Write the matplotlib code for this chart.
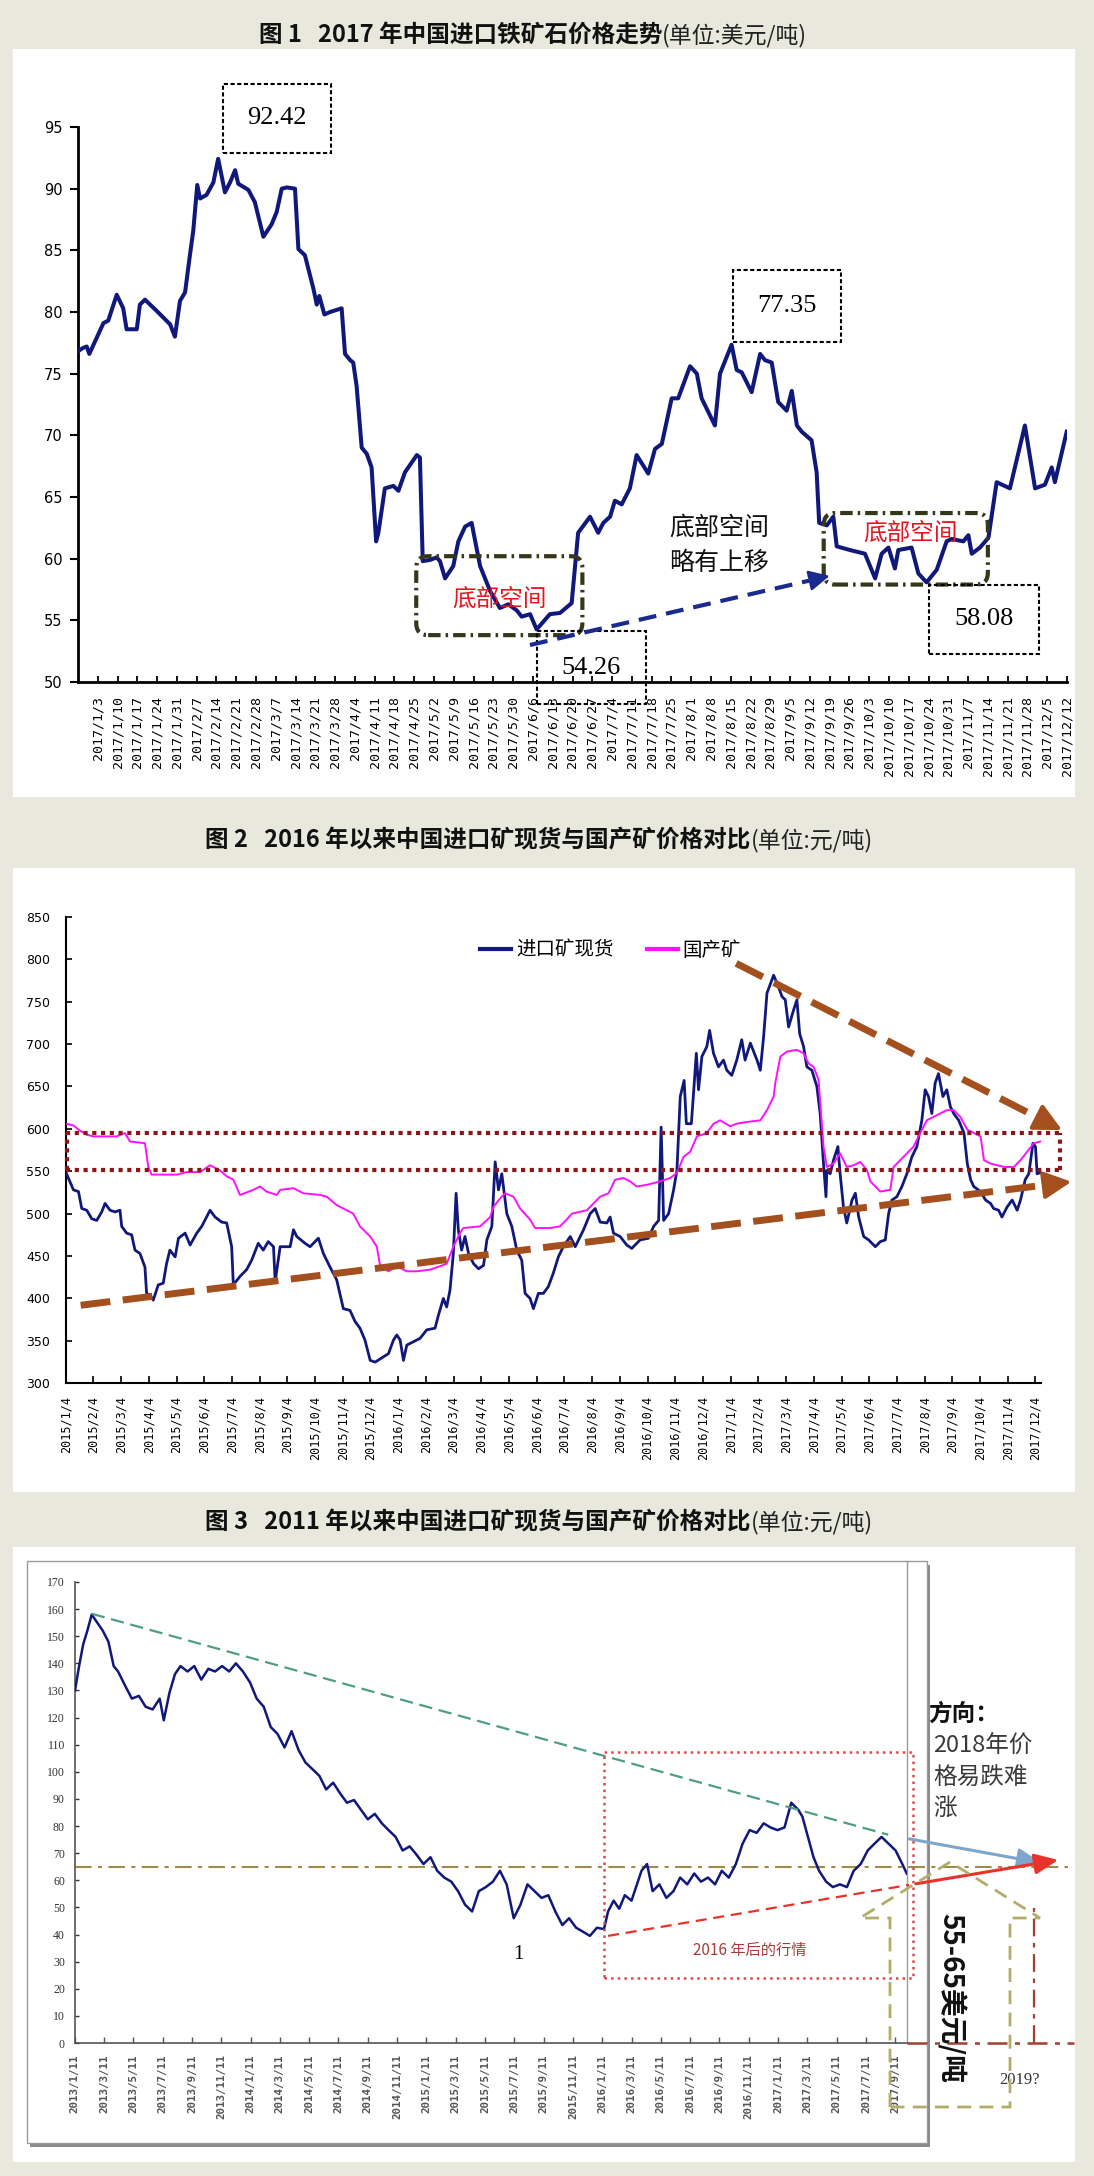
import numpy as np
import matplotlib
matplotlib.use('Agg')
import matplotlib.pyplot as plt
from matplotlib.patches import Rectangle, FancyBboxPatch, Polygon
from matplotlib.lines import Line2D
from matplotlib.transforms import Affine2D

CJK = ['Noto Sans CJK SC', 'DejaVu Sans']
SERIF = ['Liberation Serif', 'DejaVu Serif']
MONO = ['DejaVu Sans Mono']
plt.rcParams['font.family'] = ['DejaVu Sans']

# ------------------------------------------------------------------ data
# Figure 1: 2017 imported iron ore price (USD/t); x = days after 2017/1/3
p1_labels = ['2017/1/3', '2017/1/10', '2017/1/17', '2017/1/24', '2017/1/31', '2017/2/7', '2017/2/14',
             '2017/2/21', '2017/2/28', '2017/3/7', '2017/3/14', '2017/3/21', '2017/3/28', '2017/4/4',
             '2017/4/11', '2017/4/18', '2017/4/25', '2017/5/2', '2017/5/9', '2017/5/16', '2017/5/23',
             '2017/5/30', '2017/6/6', '2017/6/13', '2017/6/20', '2017/6/27', '2017/7/4', '2017/7/11',
             '2017/7/18', '2017/7/25', '2017/8/1', '2017/8/8', '2017/8/15', '2017/8/22', '2017/8/29',
             '2017/9/5', '2017/9/12', '2017/9/19', '2017/9/26', '2017/10/3', '2017/10/10', '2017/10/17',
             '2017/10/24', '2017/10/31', '2017/11/7', '2017/11/14', '2017/11/21', '2017/11/28',
             '2017/12/5', '2017/12/12']
p1_day = [-7.2, -5.1, -3.9, -3.0, -0.4, 2.0, 3.7, 6.7, 9.0, 10.2,
          13.8, 14.9, 16.7, 20.8, 25.6, 27.3, 29.1, 30.9, 32.6, 33.8,
          35.2, 36.2, 38.5, 40.9, 42.6, 45.0, 46.8, 48.6, 49.7, 53.3,
          55.6, 58.6, 61.5, 63.3, 65.1, 66.9, 69.8, 71.0, 73.3, 76.3,
          77.5, 78.4, 80.2, 82.2, 86.3, 87.5, 89.3, 90.4, 91.6, 93.4,
          95.2, 96.9, 98.5, 99.3, 101.6, 104.6, 106.4, 108.7, 112.9, 114.0,
          115.0, 117.6, 119.9, 121.1, 122.9, 125.8, 127.6, 130.0, 132.3, 135.3,
          138.8, 142.3, 145.3, 148.3, 150.0, 153.0, 155.3, 160.0, 163.6, 167.7,
          170.0, 174.2, 177.1, 178.9, 181.3, 183.0, 185.4, 188.3, 190.7, 194.8,
          197.2, 199.6, 203.1, 205.4, 209.6, 212.0, 213.7, 218.4, 220.2, 224.3,
          226.1, 227.9, 231.4, 234.4, 236.1, 238.5, 240.8, 243.8, 245.6, 247.4,
          249.1, 252.6, 254.4, 255.3, 258.0, 260.3, 261.5, 266.2, 271.5, 275.1,
          277.4, 279.8, 282.1, 283.3, 288.0, 290.4, 293.3, 296.9, 300.4, 302.2,
          306.3, 308.1, 309.3, 312.2, 315.2, 318.1, 322.8, 328.1, 331.7, 335.2,
          337.6, 338.7, 342.9]
p1_val = [76.8, 77.1, 77.2, 76.6, 77.9, 79.1, 79.3, 81.4, 80.3, 78.6,
          78.6, 80.6, 81.0, 80.1, 79.0, 78.0, 80.9, 81.6, 84.6, 86.6,
          90.3, 89.2, 89.5, 90.5, 92.42, 89.7, 90.5, 91.5, 90.4, 89.9,
          88.9, 86.1, 87.1, 88.1, 90.0, 90.1, 90.0, 85.1, 84.6, 81.9,
          80.6, 81.3, 79.8, 80.0, 80.3, 76.6, 76.1, 75.9, 74.0, 69.0,
          68.5, 67.4, 61.4, 62.1, 65.7, 65.9, 65.5, 67.0, 68.4, 68.2,
          59.8, 59.9, 60.1, 59.8, 58.4, 59.4, 61.4, 62.6, 62.9, 59.4,
          57.4, 56.0, 56.3, 55.8, 55.3, 55.5, 54.26, 55.5, 55.6, 56.4,
          62.1, 63.4, 62.1, 62.9, 63.4, 64.7, 64.4, 65.7, 68.4, 66.9,
          68.9, 69.3, 73.0, 73.0, 75.6, 75.0, 73.0, 70.8, 75.0, 77.35,
          75.3, 75.1, 73.5, 76.6, 76.1, 75.9, 72.7, 72.0, 73.6, 70.8,
          70.3, 69.6, 67.0, 62.9, 62.7, 63.4, 61.0, 60.7, 60.4, 58.4,
          60.4, 60.9, 59.2, 60.7, 60.9, 58.8, 58.08, 59.1, 61.4, 61.6,
          61.4, 61.9, 60.4, 60.9, 61.7, 66.2, 65.7, 70.8, 65.7, 66.0,
          67.4, 66.2, 70.3]

# Figure 2: imported spot vs domestic ore (CNY/t); x = months after 2015/1/4
p2_labels = ['2015/1/4', '2015/2/4', '2015/3/4', '2015/4/4', '2015/5/4', '2015/6/4', '2015/7/4',
             '2015/8/4', '2015/9/4', '2015/10/4', '2015/11/4', '2015/12/4', '2016/1/4', '2016/2/4',
             '2016/3/4', '2016/4/4', '2016/5/4', '2016/6/4', '2016/7/4', '2016/8/4', '2016/9/4',
             '2016/10/4', '2016/11/4', '2016/12/4', '2017/1/4', '2017/2/4', '2017/3/4', '2017/4/4',
             '2017/5/4', '2017/6/4', '2017/7/4', '2017/8/4', '2017/9/4', '2017/10/4', '2017/11/4',
             '2017/12/4']
p2_series = ['进口矿现货', '国产矿']
p2_imp_m = [0.03, 0.28, 0.46, 0.58, 0.76, 0.94, 1.12, 1.30, 1.42, 1.60,
            1.78, 1.96, 2.02, 2.20, 2.38, 2.50, 2.68, 2.86, 2.92, 3.04,
            3.16, 3.34, 3.52, 3.64, 3.76, 3.95, 4.07, 4.31, 4.49, 4.73,
            4.91, 5.21, 5.39, 5.63, 5.81, 5.99, 6.05, 6.29, 6.53, 6.71,
            6.95, 7.13, 7.31, 7.50, 7.56, 7.74, 8.10, 8.22, 8.34, 8.64,
            8.82, 9.12, 9.30, 9.54, 9.78, 10.02, 10.26, 10.44, 10.62, 10.80,
            10.99, 11.17, 11.41, 11.65, 11.83, 11.95, 12.07, 12.19, 12.31, 12.55,
            12.79, 13.03, 13.33, 13.45, 13.63, 13.75, 13.87, 13.99, 14.09, 14.17,
            14.29, 14.41, 14.54, 14.72, 14.90, 15.08, 15.20, 15.38, 15.50, 15.62,
            15.74, 15.92, 16.10, 16.28, 16.46, 16.58, 16.76, 16.88, 17.06, 17.24,
            17.42, 17.60, 17.78, 17.96,
            18.21, 18.39, 18.69, 18.93, 19.11, 19.29, 19.53, 19.65, 19.77, 20.01,
            20.25, 20.43, 20.73, 21.03, 21.22, 21.40, 21.49, 21.58, 21.76, 21.94,
            22.06, 22.18, 22.32, 22.40, 22.58, 22.66, 22.76, 22.84, 22.96, 23.14,
            23.24, 23.38, 23.56, 23.74, 23.86, 24.04, 24.22, 24.40, 24.52, 24.71,
            24.95, 25.07, 25.19, 25.31, 25.55, 25.73, 25.85, 25.97, 26.09, 26.27,
            26.39, 26.49, 26.63, 26.75, 26.93, 27.11, 27.23, 27.35, 27.44, 27.47,
            27.59, 27.71, 27.87, 27.95, 28.07, 28.19, 28.38, 28.50, 28.62, 28.80,
            28.98, 29.22, 29.40, 29.58, 29.70, 29.82, 30.00, 30.18, 30.36, 30.54,
            30.72, 30.90, 31.02, 31.14, 31.26, 31.38, 31.50, 31.66, 31.80, 31.93,
            32.05, 32.23, 32.42, 32.54, 32.66, 32.77, 33.02, 33.20, 33.38, 33.49,
            33.67, 33.79, 33.98, 34.16, 34.34, 34.46, 34.63, 34.76, 34.91, 35.00,
            35.06, 35.24]
p2_imp_v = [547, 528, 526, 506, 504, 494, 492, 502, 512, 504,
            502, 504, 485, 477, 475, 457, 453, 437, 406, 404,
            398, 416, 418, 441, 457, 449, 471, 477, 463, 477,
            485, 504, 496, 490, 489, 461, 416, 426, 434, 445,
            465, 457, 467, 461, 420, 461, 461, 481, 473, 465,
            461, 471, 453, 437, 422, 388, 386, 373, 365, 351,
            327, 325, 330, 335, 351, 357, 351, 327, 345, 349,
            353, 363, 365, 380, 400, 390, 410, 453, 524, 481,
            457, 473, 453, 441, 435, 439, 469, 485, 561, 528,
            547, 500, 485, 457, 445, 406, 400, 388, 406, 406,
            414, 430, 449, 461,
            473, 461, 481, 500, 506, 490, 489, 496, 477, 473,
            463, 459, 469, 471, 485, 492, 602, 492, 500, 528,
            551, 638, 657, 606, 606, 642, 689, 646, 685, 697,
            716, 689, 673, 681, 669, 663, 681, 705, 681, 701,
            681, 669, 709, 760, 781, 767, 756, 752, 720, 740,
            752, 712, 697, 673, 669, 650, 618, 559, 520, 551,
            547, 563, 579, 547, 508, 489, 516, 524, 496, 473,
            469, 461, 467, 469, 500, 516, 520, 532, 547, 567,
            579, 610, 646, 638, 618, 654, 665, 638, 646, 626,
            618, 610, 595, 559, 540, 532, 526, 516, 512, 506,
            504, 496, 508, 516, 504, 516, 540, 547, 583, 579,
            547, 549]
p2_dom_m = [0.00, 0.28, 0.46, 0.76, 1.00, 1.84, 2.14, 2.32, 2.86, 2.98,
            3.10, 4.01, 4.37, 4.85, 5.21, 5.57, 5.81, 6.05, 6.29, 6.77,
            7.01, 7.25, 7.62, 7.74, 8.22, 8.58, 9.18, 9.42, 9.78, 10.26,
            10.38, 10.62, 10.99, 11.23, 11.35, 11.65, 11.95, 12.31, 12.67, 13.15,
            13.51, 13.75, 13.99, 14.23, 14.35, 14.96, 15.32, 15.44, 15.68, 15.86,
            16.16, 16.40, 16.76, 16.94, 17.48, 17.84, 18.08, 18.27,
            18.81, 19.05, 19.29, 19.59, 19.83, 20.13, 20.37, 20.61, 20.98, 21.46,
            21.82, 22.06, 22.30, 22.54, 22.78, 23.14, 23.38, 23.62, 23.98, 24.22,
            24.58, 25.07, 25.31, 25.55, 25.61, 25.79, 26.03, 26.39, 26.63, 26.81,
            26.99, 27.17, 27.35, 27.47, 27.71, 27.95, 28.19, 28.44, 28.68, 28.92,
            29.04, 29.40, 29.76, 29.88, 30.12, 30.36, 30.60, 30.84, 31.08, 31.44,
            31.80, 32.05, 32.29, 32.54, 33.02, 33.14, 33.38, 33.86, 34.22, 34.46,
            34.70, 34.94, 35.18]
p2_dom_v = [606, 604, 599, 593, 591, 591, 595, 585, 583, 555,
            546, 546, 549, 549, 557, 551, 544, 540, 522, 528,
            532, 526, 522, 528, 530, 524, 522, 520, 510, 502,
            500, 485, 473, 461, 438, 432, 438, 432, 432, 434,
            438, 441, 461, 477, 483, 485, 496, 508, 518, 524,
            520, 506, 493, 483, 483, 485, 493, 500,
            504, 512, 520, 524, 540, 542, 538, 532, 534, 538,
            542, 548, 567, 573, 591, 595, 606, 610, 603, 606,
            608, 610, 622, 638, 654, 685, 691, 693, 689, 677,
            673, 658, 579, 555, 559, 571, 555, 557, 561, 551,
            538, 526, 528, 555, 563, 571, 579, 595, 610, 616,
            622, 622, 614, 599, 591, 563, 559, 555, 555, 563,
            573, 583, 585]
p2_band = [552, 595]

# Figure 3: long-run imported ore price; x = two-month steps after 2013/1/11
p3_labels = ['2013/1/11', '2013/3/11', '2013/5/11', '2013/7/11', '2013/9/11', '2013/11/11',
             '2014/1/11', '2014/3/11', '2014/5/11', '2014/7/11', '2014/9/11', '2014/11/11',
             '2015/1/11', '2015/3/11', '2015/5/11', '2015/7/11', '2015/9/11', '2015/11/11',
             '2016/1/11', '2016/3/11', '2016/5/11', '2016/7/11', '2016/9/11', '2016/11/11',
             '2017/1/11', '2017/3/11', '2017/5/11', '2017/7/11', '2017/9/11']
p3_u = [0.01, 0.15, 0.29, 0.43, 0.58, 0.77, 0.96, 1.15, 1.33, 1.48,
        1.71, 1.95, 2.19, 2.42, 2.66, 2.90, 3.04, 3.23, 3.42, 3.61,
        3.85, 4.08, 4.32, 4.56, 4.79, 5.03, 5.27, 5.50, 5.74, 5.98,
        6.21, 6.45, 6.69, 6.92, 7.16, 7.40, 7.64, 7.87, 8.11, 8.35,
        8.58, 8.82, 9.06, 9.29, 9.53, 9.77, 10.00, 10.24, 10.48, 10.71,
        10.95, 11.19, 11.43, 11.66, 11.90, 12.14, 12.37, 12.61, 12.85, 13.08,
        13.32, 13.56, 13.79, 14.03, 14.27, 14.51, 14.74, 14.98, 15.21, 15.45,
        15.69, 15.93, 16.16, 16.40, 16.64, 16.87, 17.11, 17.35, 17.58, 17.82,
        18.06, 18.20, 18.39, 18.58, 18.77, 19.00, 19.34, 19.53, 19.72, 19.95,
        20.19, 20.43, 20.66, 20.90, 21.14, 21.37, 21.61, 21.85, 22.08, 22.32,
        22.56, 22.79, 23.03, 23.27, 23.51, 23.74, 23.98, 24.22, 24.45, 24.69,
        24.83, 25.02, 25.21, 25.40, 25.64, 25.87, 26.11, 26.35, 26.58, 26.82,
        27.06, 27.29, 27.53, 27.77, 28.01, 28.24, 28.39, 28.53]
p3_val = [130, 139, 147, 152, 158, 155, 152, 148, 139, 137,
          132, 127, 128, 124, 123, 127, 119, 129, 136, 139,
          137, 139, 134, 138, 137, 139, 137, 140, 137, 133,
          127, 124, 116.5, 114, 109, 115, 108, 103.5, 101, 98.5,
          93.5, 96, 92, 88.6, 89.6, 86, 82.5, 84.5, 81, 78.5,
          76, 71, 72.5, 69.5, 66, 68.5, 63.5, 61, 59.5, 56,
          51, 48.5, 56, 57.5, 59.5, 63.5, 58.5, 46, 51, 58.5,
          56, 53.5, 54.5, 48.5, 43.5, 46, 42.5, 41, 39.5, 42.5,
          42, 48.5, 52.5, 49.5, 54.5, 52.5, 63.5, 66, 56, 58.5,
          53.5, 56, 61, 58.5, 62.5, 59.5, 61, 58.5, 63.5, 61,
          66, 73.5, 78.5, 77.5, 81, 79.5, 78.5, 79.5, 88.6, 86,
          83.5, 76, 68.5, 63.5, 59.5, 57.5, 58.5, 57.5, 63.5, 66,
          71, 73.5, 76, 73.5, 71, 66, 62.5, 61]

# ------------------------------------------------------------------ figure
W, H = 1094, 2176
NAVY = '#10187c'
BROWN = '#a4501e'
DRED = '#8c1616'

fig = plt.figure(figsize=(W / 100, H / 100), dpi=100)
fig.patch.set_facecolor('#e8e8dd')
PX = Affine2D().scale(1.0 / W, -1.0 / H).translate(0, 1) + fig.transFigure


def axrect(x0, y0, x1, y1):
    return [x0 / W, 1 - y1 / H, (x1 - x0) / W, (y1 - y0) / H]


for (x0, y0, x1, y1) in [(13, 49, 1075, 797), (13, 868, 1075, 1492), (13, 1547, 1075, 2162)]:
    fig.add_artist(Rectangle((x0, y0), x1 - x0, y1 - y0, transform=PX,
                             facecolor='white', edgecolor='none', zorder=-5))


def make_title(y, cx, main, unit):
    t1 = fig.text(0, 1 - y / H, main, fontsize=17, fontweight='bold', family=CJK,
                  ha='left', va='center', color='#111111')
    t2 = fig.text(0, 1 - y / H, unit, fontsize=16.5, family=CJK,
                  ha='left', va='center', color='#222222')
    r = fig.canvas.get_renderer()
    w1 = t1.get_window_extent(r).width
    w2 = t2.get_window_extent(r).width
    x0 = cx - (w1 + w2) / 2
    t1.set_x(x0 / W)
    t2.set_x((x0 + w1) / W)


make_title(35, 533, '图 1   2017 年中国进口铁矿石价格走势', '(单位:美元/吨)')
make_title(840, 539, '图 2   2016 年以来中国进口矿现货与国产矿价格对比', '(单位:元/吨)')
make_title(1522, 539, '图 3   2011 年以来中国进口矿现货与国产矿价格对比', '(单位:元/吨)')


def dashed_arrow(ax, p0, p1, color, lw, dashes, ms, hl, hw, frac, z=6):
    q = (p1[0] - frac * (p1[0] - p0[0]), p1[1] - frac * (p1[1] - p0[1]))
    ax.plot([p0[0], q[0]], [p0[1], q[1]], color=color, lw=lw, ls=(0, dashes),
            clip_on=False, zorder=z, dash_capstyle='butt')
    ax.annotate('', xy=p1, xytext=q, annotation_clip=False, zorder=z,
                arrowprops=dict(arrowstyle=f'-|>,head_length={hl},head_width={hw}',
                                color=color, lw=lw * 0.6, shrinkA=0, shrinkB=0,
                                mutation_scale=ms))


# ------------------------------------------------------------------ panel 1
ax1 = fig.add_axes(axrect(78, 127, 1067, 682))
ax1.set_facecolor('none')
ax1.plot(np.array(p1_day) / 7.0, p1_val, color=NAVY, lw=2.9,
         solid_joinstyle='round', zorder=3)
ax1.set_xlim(-1, 49)
ax1.set_ylim(50, 95)
ax1.set_yticks(np.arange(50, 96, 5))
ax1.set_xticks(np.arange(len(p1_labels)))
ax1.set_xticklabels(p1_labels, rotation=90, fontfamily=MONO, fontsize=9.5)
for s in ['top', 'right']:
    ax1.spines[s].set_visible(False)
for s in ['left', 'bottom']:
    ax1.spines[s].set_linewidth(2.0)
ax1.tick_params(axis='y', direction='out', length=6, width=1.5, labelsize=10.5, pad=5)
ax1.tick_params(axis='x', direction='in', length=4, width=1.3, pad=10)


def value_box(ax, x0, x1, y0, y1, txt):
    ax.add_patch(Rectangle((x0, y0), x1 - x0, y1 - y0, fill=False, ec='black', lw=1.5,
                           ls=(0, (2, 1.2)), clip_on=False, zorder=6))
    ax.text((x0 + x1) / 2, (y0 + y1) / 2, txt, ha='center', va='center', family=SERIF,
            fontsize=19, zorder=7, clip_on=False)


value_box(ax1, 6.33, 11.79, 92.9, 98.5, '92.42')
value_box(ax1, 32.1, 37.56, 77.6, 83.4, '77.35')
value_box(ax1, 22.2, 27.7, 48.2, 54.1, '54.26')
value_box(ax1, 42.0, 47.6, 52.3, 57.9, '58.08')

asp1 = 19.78 / 12.33
for (bx, by, bw, bh) in [(16.1, 53.8, 8.4, 6.4), (36.7, 57.9, 8.3, 5.8)]:
    ax1.add_patch(FancyBboxPatch((bx, by), bw, bh, boxstyle='round,pad=0,rounding_size=0.6',
                                 mutation_aspect=asp1, fill=False, ec='#36361a', lw=3,
                                 ls=(0, (3, 1.2, 0.6, 1.2)), clip_on=False, zorder=5))
ax1.text(20.3, 56.7, '底部空间', color='#e8141e', family=CJK, fontsize=17,
         ha='center', va='center', zorder=7)
ax1.text(41.1, 62.1, '底部空间', color='#e8141e', family=CJK, fontsize=17,
         ha='center', va='center', zorder=7)
ax1.text(31.4, 61.1, '底部空间\n略有上移', color='#111111', family=CJK, fontsize=18,
         ha='center', va='center', linespacing=1.45, zorder=7)
dashed_arrow(ax1, (21.85, 53.0), (37.0, 58.6), '#1a2a8e', 3, (4.3, 2.4), 14, 0.9, 0.45, 0.07)

# ------------------------------------------------------------------ panel 2
ax2 = fig.add_axes(axrect(65.7, 916.7, 1041, 1383.3))
ax2.set_facecolor('none')
ax2.plot(p2_imp_m, p2_imp_v, color=NAVY, lw=2.0, zorder=3, label=p2_series[0])
ax2.plot(p2_dom_m, p2_dom_v, color='#ff10ff', lw=1.4, zorder=3, label=p2_series[1])
ax2.set_xlim(0, 35.2)
ax2.set_ylim(300, 850)
ax2.set_yticks(np.arange(300, 851, 50))
ax2.set_xticks(np.arange(len(p2_labels)))
ax2.set_xticklabels(p2_labels, rotation=90, fontfamily=MONO, fontsize=8.5)
for s in ['top', 'right']:
    ax2.spines[s].set_visible(False)
for s in ['left', 'bottom']:
    ax2.spines[s].set_linewidth(1.5)
ax2.tick_params(axis='y', direction='in', length=4, width=1.2, labelsize=9, pad=11)
ax2.tick_params(axis='x', direction='in', length=5, width=1.2, pad=9)
leg = ax2.legend(loc='center left', bbox_to_anchor=(0.4248, 0.9286), ncol=2, frameon=False,
                 prop={'family': CJK, 'size': 14}, handlelength=1.6, handletextpad=0.25,
                 columnspacing=1.7, borderpad=0, borderaxespad=0)
for ln in leg.get_lines():
    ln.set_linewidth(3)

band_right = 35.9
for yv in p2_band:
    ax2.plot([0, band_right], [yv, yv], color=DRED, lw=3, ls=(0, (1, 1.1)),
             clip_on=False, zorder=4)
for xv in [0.05, band_right]:
    ax2.plot([xv, xv], p2_band, color=DRED, lw=3, ls=(0, (1, 1.1)), clip_on=False, zorder=4)

dashed_arrow(ax2, (0.54, 392), (36.3, 537.6), BROWN, 5, (4.3, 1.8), 14, 1.2, 0.6, 0.022, z=5)
dashed_arrow(ax2, (24.2, 795), (35.96, 598.5), BROWN, 5, (4.3, 1.8), 14, 1.2, 0.6, 0.05, z=5)

# ------------------------------------------------------------------ panel 3
fig.add_artist(Rectangle((30, 1564.5), 900, 582, transform=PX, facecolor='#8a8a8a',
                         edgecolor='none', zorder=-4))
fig.add_artist(Rectangle((26.5, 1561), 900.5, 582, transform=PX, facecolor='white',
                         edgecolor='#9a9a9a', lw=1.0, zorder=-3))
fig.add_artist(Line2D([907, 907], [1561, 2043], transform=PX, color='#9a9a9a', lw=1.0,
                      zorder=-2))

ax3 = fig.add_axes(axrect(74.7, 1582, 907, 2043))
ax3.set_facecolor('none')
ax3.plot(p3_u, p3_val, color=NAVY, lw=1.8, zorder=3)
ax3.set_xlim(0, 28.4)
ax3.set_ylim(0, 170)
ax3.set_yticks(np.arange(0, 171, 10))
ax3.set_xticks(np.arange(len(p3_labels)))
ax3.set_xticklabels(p3_labels, rotation=90, fontfamily=MONO, fontsize=7.8,
                    fontweight='bold', color='#5a5a5a')
for s in ['top', 'right']:
    ax3.spines[s].set_visible(False)
for s in ['left', 'bottom']:
    ax3.spines[s].set_linewidth(1.2)
    ax3.spines[s].set_color('#555555')
ax3.tick_params(axis='y', direction='in', length=3, width=1, labelsize=8.5, pad=7,
                colors='#333333')
for lab in ax3.get_yticklabels():
    lab.set_fontfamily(SERIF)
ax3.tick_params(axis='x', direction='in', length=4, width=1, pad=8, colors='#555555')

# trend / guide lines
ax3.plot([0.58, 27.76], [158.3, 76.8], color='#4e9e80', lw=1.6, ls=(0, (6, 3)),
         clip_on=False, zorder=4)
ax3.annotate('', xy=(32.98, 66.4), xytext=(28.47, 75.3), annotation_clip=False, zorder=5,
             arrowprops=dict(arrowstyle='-|>,head_length=0.8,head_width=0.35',
                             color='#7ea6cc', lw=2.2, shrinkA=0, shrinkB=0, mutation_scale=18))
ax3.plot([18.2, 28.47], [39.5, 58.3], color='#e8322a', lw=1.6, ls=(0, (5, 3)),
         clip_on=False, zorder=4)
ax3.annotate('', xy=(33.56, 67.5), xytext=(28.7, 58.7), annotation_clip=False, zorder=5,
             arrowprops=dict(arrowstyle='-|>,head_length=0.8,head_width=0.35',
                             color='#e8322a', lw=2.2, shrinkA=0, shrinkB=0, mutation_scale=18))
ax3.plot([0, 33.9], [65, 65], color='#a08c48', lw=1.5, ls=(0, (8, 3, 2, 3)),
         clip_on=False, zorder=2)
ax3.plot([28.4, 34.1], [0, 0], color='#a04030', lw=1.8, ls=(0, (8, 3, 2, 3)),
         clip_on=False, zorder=2)
ax3.plot([32.74, 32.74], [0, 49.8], color='#a04030', lw=1.6, ls=(0, (8, 3, 2, 3)),
         clip_on=False, zorder=2)
ax3.add_patch(Rectangle((18.07, 24.0), 10.55, 83.4, fill=False, ec='#e04848', lw=1.8,
                        ls=':', clip_on=False, zorder=4))
ax3.text(23.05, 34.3, '2016 年后的行情', color='#a83c3c', family=CJK, fontsize=11,
         ha='center', va='center', zorder=6)
ax3.text(15.13, 32.8, '1', family=SERIF, fontsize=15, ha='center', va='center', zorder=6)

fig.add_artist(Polygon([(890, 2107), (890, 1918), (860, 1918), (950, 1862), (1040, 1918),
                        (1010, 1918), (1010, 2107)], closed=True, fill=False,
                       ec='#b3ad6a', lw=2, ls=(0, (5, 3)), transform=PX, zorder=6))

fig.text(928 / W, 1 - 1714 / H, '方向：', fontsize=17, fontweight='bold', family=CJK,
         ha='left', va='center', color='#111111')
for (yy, s) in [(1746, '2018年价'), (1778, '格易跌难'), (1808, '涨')]:
    fig.text(933 / W, 1 - yy / H, s, fontsize=17, family=CJK, ha='left', va='center',
             color='#3a3a3a')
fig.text(950 / W, 1 - 1998 / H, '55-65美元/吨', fontsize=20, fontweight='bold', family=CJK,
         ha='center', va='center', rotation=-90, color='#111111', zorder=7)
fig.text(1019 / W, 1 - 2080 / H, '2019?', fontsize=12, family=SERIF, ha='center',
         va='center', color='#333333')

fig.savefig('out.png', dpi=100, facecolor=fig.get_facecolor())
